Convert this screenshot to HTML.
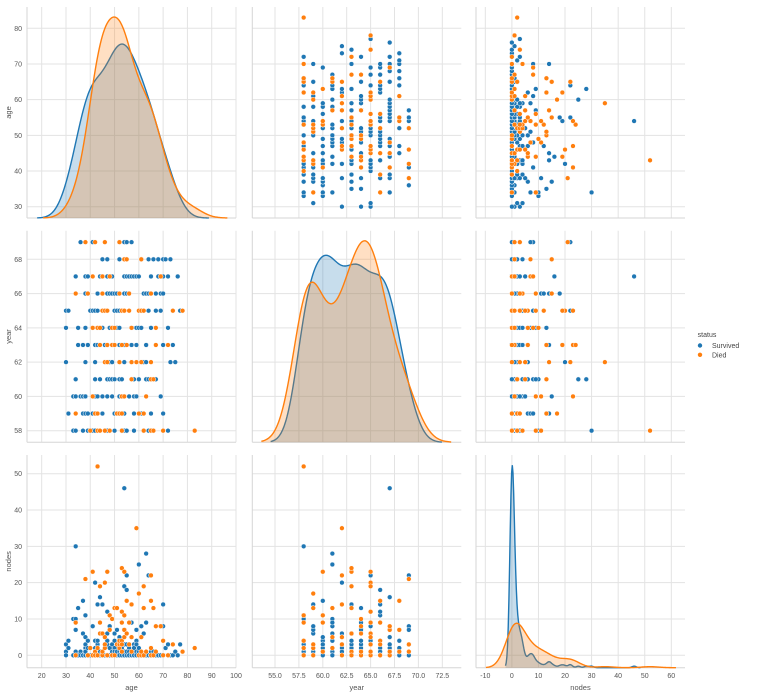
<!DOCTYPE html>
<html><head><meta charset="utf-8"><style>
html,body{margin:0;padding:0;background:#fff;}
svg{display:block;font-family:"Liberation Sans",sans-serif;}
</style></head><body>
<svg id="chart" width="757" height="699" viewBox="0 0 757 699" xmlns="http://www.w3.org/2000/svg"></svg>
<script>
// ---- data: [age, year, nodes] per status ----
const survived = [
[30,64,1],[30,62,3],[30,65,0],[31,59,2],[31,65,4],[33,58,10],[33,60,0],[34,58,30],[34,60,1],[34,61,10],[34,67,7],[34,60,0],
[35,64,13],[35,63,0],[36,60,1],[36,69,0],[37,60,0],[37,63,0],[37,58,0],[37,59,6],[37,60,15],[37,63,0],
[38,59,2],[38,60,0],[38,60,0],[38,62,3],[38,64,1],[38,66,0],[38,66,11],[38,60,1],[38,67,5],
[39,63,0],[39,67,0],[39,58,0],[39,59,2],[39,63,4],[40,58,0],[40,65,0],
[41,58,0],[41,59,8],[41,59,0],[41,64,0],[41,69,8],[41,65,0],[41,65,0],
[42,58,0],[42,60,1],[42,59,2],[42,61,4],[42,62,20],[42,65,0],[42,63,1],
[43,63,14],[43,64,2],[43,64,3],[43,60,0],[43,63,2],[43,65,0],[43,66,4],
[44,61,0],[44,63,1],[44,61,0],[44,67,16],[45,60,0],[45,67,0],[45,59,14],[45,64,0],[45,68,0],[45,67,1],
[46,62,0],[46,58,3],[46,63,0],[47,61,0],[47,63,6],[47,66,0],[47,67,0],[47,58,3],[47,60,4],[47,68,4],[47,66,12],
[48,61,8],[48,62,2],[48,64,0],[48,66,0],[49,61,1],[49,62,0],[49,66,0],[49,60,1],[49,62,1],[49,63,3],[49,61,0],[49,67,1],
[50,59,0],[50,61,6],[50,61,0],[50,63,1],[50,58,1],[50,59,2],[50,61,0],[50,64,0],[50,65,4],[50,66,1],
[51,64,7],[51,59,1],[51,65,0],[51,66,1],[52,61,0],[52,63,4],[52,69,0],[52,60,4],[52,60,5],[52,62,0],[52,62,1],[52,64,0],[52,65,0],[52,68,0],
[53,58,1],[53,60,1],[53,60,2],[53,61,1],[53,63,0],[54,59,7],[54,60,3],[54,66,0],[54,67,46],[54,62,0],[54,69,7],[54,63,19],[54,58,1],[54,62,0],
[55,58,1],[55,58,0],[55,58,1],[55,66,18],[55,66,0],[55,69,3],[55,69,22],[55,67,1],[56,60,0],[56,66,2],[56,66,1],[56,67,0],[56,60,0],
[57,64,9],[57,69,0],[57,61,0],[57,62,0],[57,63,0],[57,64,0],[57,64,0],[57,67,0],[58,59,0],[58,60,3],[58,61,1],[58,67,0],[58,58,0],[58,58,3],[58,61,2],
[59,60,0],[59,63,0],[59,64,1],[59,64,4],[59,64,0],[59,64,7],[59,67,3],[60,61,1],[60,67,2],[60,61,25],[60,64,0],
[61,59,0],[61,59,0],[61,64,0],[61,65,8],[61,68,0],[61,59,0],[62,62,6],[62,66,0],[62,66,0],[62,58,0],
[63,61,0],[63,62,0],[63,63,0],[63,63,0],[63,66,0],[63,61,9],[63,61,28],[64,58,0],[64,65,22],[64,66,0],[64,61,0],[64,68,0],
[65,58,0],[65,64,0],[65,67,0],[65,59,2],[65,64,0],[65,67,1],[66,58,0],[66,58,1],[66,68,0],[67,66,0],[67,66,0],[67,61,0],[67,65,0],
[68,67,0],[68,68,0],[69,60,0],[69,65,0],[69,66,0],[70,66,14],[70,67,0],[70,68,0],[70,59,8],[70,63,0],[71,68,2],
[72,58,0],[72,64,0],[72,67,3],[73,62,0],[73,68,0],[74,63,0],[75,62,1],[76,67,0],[77,65,3]
];
const died = [
[34,59,0],[34,66,9],[38,69,21],[39,66,0],[40,58,2],[41,60,23],[41,64,0],[41,67,0],[42,69,1],[42,59,0],[43,58,52],[43,59,2],[43,64,0],[43,64,0],
[44,64,6],[44,58,9],[44,63,19],[45,65,6],[45,66,0],[45,67,1],[46,58,2],[46,69,3],[46,62,5],[46,65,20],[47,63,23],[47,62,0],[47,65,0],
[48,58,11],[48,58,11],[48,67,7],[49,63,0],[49,64,10],[50,63,13],[50,64,0],[51,59,13],[51,59,3],[52,69,3],[52,59,2],[52,62,3],[52,66,4],
[53,58,4],[53,65,1],[53,59,3],[53,60,9],[53,63,24],[53,65,12],[54,60,11],[54,65,23],[54,65,5],[54,68,7],[55,63,6],[55,68,15],[56,65,9],[56,66,3],
[57,61,5],[57,62,14],[57,64,1],[59,62,35],[60,59,17],[60,65,0],[61,62,5],[61,65,0],[61,68,1],[62,59,13],[62,58,0],[62,65,19],[63,60,1],
[65,58,0],[65,61,2],[65,62,22],[65,66,15],[66,58,0],[66,61,13],[67,64,8],[67,63,1],[69,67,8],[70,58,0],[70,58,4],[72,63,0],[74,65,3],[78,65,1],[83,58,2]
];
const varNames = ["age","year","nodes"];
const seriesNames = ["Survived","Died"];
const ageTicks = [20,30,40,50,60,70,80,90,100];
const yearTicks = [55.0,57.5,60.0,62.5,65.0,67.5,70.0,72.5];
const nodesTicks = [-10,0,10,20,30,40,50,60];
const ageRowTicks = [30,40,50,60,70,80];
const yearRowTicks = [58,60,62,64,66,68];
const nodesRowTicks = [0,10,20,30,40,50];

const colors = ["#1f77b4","#ff7f0e"];
const svg = document.getElementById('chart');
const NS = "http://www.w3.org/2000/svg";
function mk(tag, attrs, parent){ const e=document.createElementNS(NS,tag); for(const k in attrs) e.setAttribute(k,attrs[k]); (parent||svg).appendChild(e); return e; }
function lin(d0,d1,r0,r1){ return v => r0 + (v-d0)*(r1-r0)/(d1-d0); }

const colBox = [[27,236],[252.3,461.3],[476,685]];
const rowBox = [[7,218],[230.7,442.3],[455,667.7]];
const xScales = [lin(20,100,41.7,236), lin(55,72.5,275,442.3), lin(-10,60,485.3,671.3)];
const yScales = [lin(80,30,28.3,206.7), lin(68,58,259.3,430.7), lin(50,0,473.7,655.3)];
const xTicks = [ageTicks, yearTicks, nodesTicks];
const yTicks = [ageRowTicks, yearRowTicks, nodesRowTicks];
const xFmt = [v=>String(v), v=>v.toFixed(1), v=>String(v)];

function col(arr,i){ return arr.map(r=>r[i]); }
function kde(vals){
  const n=vals.length, m=vals.reduce((a,b)=>a+b,0)/n;
  const sd=Math.sqrt(vals.reduce((a,b)=>a+(b-m)*(b-m),0)/(n-1));
  const s=[...vals].sort((a,b)=>a-b);
  const q=p=>{const h=(n-1)*p, l=Math.floor(h); return s[l]+(h-l)*((s[l+1]??s[l])-s[l]);};
  const iqr=(q(0.75)-q(0.25))/1.349;
  const A = iqr>0 ? Math.min(sd,iqr) : sd;
  const bw=1.059*A*Math.pow(n,-0.2);
  const lo=s[0]-3*bw, hi=s[n-1]+3*bw, pts=[];
  for(let k=0;k<200;k++){ const x=lo+(hi-lo)*k/199; let d=0;
    for(const v of vals){ const z=(x-v)/bw; d+=Math.exp(-0.5*z*z);} pts.push([x,d/(n*bw*Math.sqrt(2*Math.PI))]); }
  return pts;
}

for(let r=0;r<3;r++) for(let c=0;c<3;c++){
  const [x0,x1]=colBox[c], [y0,y1]=rowBox[r];
  const g=mk('g',{});
  
  
  for(const t of xTicks[c]){ const x=xScales[c](t); const l=mk('line',{x1:x,x2:x,y1:y0,y2:y1,stroke:'#e3e3e3','stroke-width':1},g);
      }
  for(const t of yTicks[r]){ const y=yScales[r](t); const l=mk('line',{x1:x0,x2:x1,y1:y,y2:y,stroke:'#e3e3e3','stroke-width':1},g);
      }
  const sp1=mk('line',{x1:x0,x2:x0,y1:y0,y2:y1,stroke:'#d6d6d6','stroke-width':1},g);
   
  const sp2=mk('line',{x1:x0,x2:x1,y1:y1,y2:y1,stroke:'#d6d6d6','stroke-width':1},g);
   

  if(r===c){
    const curves=[survived,died].map(d=>kde(col(d,c)));
    let mx=0; curves.forEach(cv=>cv.forEach(p=>{ if(p[1]>mx) mx=p[1]; }));
    const ys=lin(0,mx*1.05,y1,y0);
    curves.forEach((cv,si)=>{
      let dStr=`M${xScales[c](cv[0][0])},${y1}`;
      cv.forEach(p=>{ dStr+=`L${xScales[c](p[0]).toFixed(2)},${ys(p[1]).toFixed(2)}`; });
      dStr+=`L${xScales[c](cv[cv.length-1][0])},${y1}Z`;
      const f=mk('path',{d:dStr,fill:colors[si],'fill-opacity':0.25,stroke:'none'},g);
       
      let lStr=''; cv.forEach((p,k)=>{ lStr+=(k?'L':'M')+xScales[c](p[0]).toFixed(2)+','+ys(p[1]).toFixed(2); });
      const l=mk('path',{d:lStr,fill:'none',stroke:colors[si],'stroke-width':1.4},g);
       
    });
  } else {
    [survived,died].forEach((d,si)=>{
      d.forEach(p=>{
        const pt=mk('circle',{cx:xScales[c](p[c]).toFixed(2),cy:yScales[r](p[r]).toFixed(2),r:2.4,fill:colors[si],stroke:'#fff','stroke-width':0.5},g);
        
        
      });
    });
  }
  if(c===0){
    for(const t of yTicks[r]){ const tx=mk('text',{x:22,y:yScales[r](t)+2.5,'font-size':7,fill:'#555','text-anchor':'end'},g); tx.textContent=String(t);
        }
    const yt=mk('text',{x:0,y:0,'font-size':7.5,fill:'#555','text-anchor':'middle',transform:`translate(11,${(y0+y1)/2}) rotate(-90)`},g);
    yt.textContent=varNames[r];  
  }
  if(r===2){
    for(const t of xTicks[c]){ const tx=mk('text',{x:xScales[c](t),y:678,'font-size':7,fill:'#555','text-anchor':'middle'},g); tx.textContent=xFmt[c](t);
        }
    const xt=mk('text',{x:(x0+x1)/2,y:690,'font-size':7.5,fill:'#555','text-anchor':'middle'},g);
    xt.textContent=varNames[c];  
  }
}
const lg=mk('g',{});
 
const lt=mk('text',{x:707,y:337,'font-size':7,fill:'#444','text-anchor':'middle'},lg); lt.textContent='status';
 
seriesNames.forEach((nm,i)=>{
  const y=345.5+i*9.3;
  const c=mk('circle',{cx:700,cy:y,r:2.2,fill:colors[i]},lg);
   
  const t=mk('text',{x:712,y:y+2.5,'font-size':7,fill:'#444'},lg); t.textContent=nm;
   
});
</script>
</body></html>
